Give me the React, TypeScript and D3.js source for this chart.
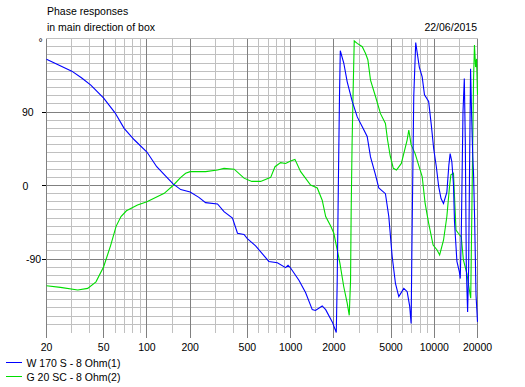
import React from 'react'
import * as d3 from 'd3'

// W 170 S - 8 Ohm(1)
const blueFreq = [20, 30, 35, 40.7, 50, 60, 69.4, 81.6, 100, 117, 152, 172, 200, 230, 256, 310, 344, 394, 427, 474, 500, 571, 706, 809, 923, 960, 1000, 1143, 1271, 1415, 1489, 1660, 1755, 1950, 2080, 2110, 2150, 2190, 2218, 2345, 2478, 2686, 2910, 3155, 3413, 3600, 3900, 4110, 4573, 4826, 5095, 5370, 5664, 6140, 6480, 6748, 6900, 7010, 7200, 7430, 7870, 8240, 8550, 9140, 9540, 9910, 10340, 10740, 11150, 11600, 12240, 12640, 12900, 13260, 13610, 13830, 14380, 14930, 15170, 15420, 15850, 16190, 16450, 16720, 17070, 17350, 17650, 17900, 18200, 18500, 18780, 19100, 19530, 20000]
const bluePhase = [154.5, 140, 132, 123, 107, 89, 70, 56, 41, 23, 2, -5, -8, -14.5, -21, -22.6, -32, -40, -58.5, -60, -65, -74, -93, -94.5, -100.6, -97.7, -101, -116, -131, -152, -153, -147.5, -152, -167, -180, -120, 0, 110, 165, 150, 127, 103, 84, 72, 60, 35, 13, -3, -10, -38, -87, -120, -136, -126, -130, -148, -169, -57, 109, 175, 145, 133, 111, 103, 74, 45, 23, -1.5, -16, -22, -8, 25, 39, 29, 1, -44, -93, -105, -114, -60, 90, 131, 54, -101, -155, -101, 40, 143, 86, 41, 13, -40, -134, -167]

// G 20 SC - 8 Ohm(2)
const greenFreq = [20, 25, 33, 38.7, 44.2, 50, 56, 61, 66, 72, 86, 100, 132, 152, 172, 186, 200, 256, 310, 344, 405, 474, 537, 619, 727, 779, 852, 923, 1000, 1072, 1175, 1378, 1534, 1660, 1755, 1905, 2000, 2113, 2204, 2345, 2478, 2560, 2615, 2640, 2680, 2720, 2774, 2910, 3155, 3320, 3450, 3600, 3900, 4225, 4573, 4730, 4930, 5190, 5460, 5900, 6480, 6650, 6900, 7360, 8240, 8640, 9140, 9820, 10460, 10900, 11600, 12240, 12770, 13050, 13610, 14170, 14700, 15420, 15950, 16860, 17560, 17940, 18300, 18780, 19050, 19400, 19700, 20000]
const greenPhase = [-122.7, -124.7, -128, -126, -118, -99.4, -73, -50, -38, -31, -24, -20, -9.6, 0, 10, 15, 17, 17, 19, 21, 20, 9, 5, 5, 10, 23, 28, 27, 30, 32, 17, 0.6, -3, -18, -38, -50, -58.5, -79, -95, -124, -144, -159, -116, -32, 52, 109, 177, 174, 170, 162, 154, 129, 109, 88, 76, 56, 37, 21, 19, 27, 56, 68, 50, 39, 11, -22, -46, -73, -79, -85, -67, -38, -1.5, 13, 15, -54.5, -58.5, -63, -91, -107.5, -128, -138, -22, 131, 172, 145, 155, 111]

const freqTicks = [20, 50, 100, 200, 500, 1000, 2000, 5000, 10000, 20000]
const freqMinor = [30, 40, 60, 70, 80, 90, 150, 300, 400, 600, 700, 800, 900, 1500, 3000, 4000, 6000, 7000, 8000, 9000, 15000]
const phaseTicks = [90, 0, -90]
const phaseTickX = [22, 22.5, 26]
const legendNames = ['W 170 S - 8 Ohm(1)', 'G 20 SC - 8 Ohm(2)']
const colors = ['#0000ff', '#00dd00']

const App = () => {
  const width = 525
  const height = 387
  const xScale = d3.scaleLog().domain([20, 20000]).range([46.5, 477.5])
  const yScale = d3.scaleLinear().domain([-180, 180]).range([332.5, 38.5])
  const snap = (v: number) => Math.floor(v) + 0.5
  const top = snap(yScale(180))
  const bottom = 333

  const hLines = d3.range(-170, 181, 10)

  const line = d3.line<[number, number]>()
    .x(d => xScale(d[0]))
    .y(d => yScale(d[1]))

  const blue = blueFreq.map((f, i) => [f, bluePhase[i]] as [number, number])
  const green = greenFreq.map((f, i) => [f, greenPhase[i]] as [number, number])

  const font = { fontFamily: 'Liberation Sans, Arial, sans-serif', fontSize: 10.5 }

  return (
    <svg width={width} height={height} style={{ position: 'absolute', left: 0, top: 0, background: '#fff' }}>
      <rect width={width} height={height} fill='#fff' />
      <g shapeRendering='crispEdges'>
        {hLines.map(p => (
          <line key={'h' + p} x1={46} x2={478} y1={snap(yScale(p))} y2={snap(yScale(p))}
            stroke={phaseTicks.includes(p) ? '#808080' : '#c0c0c0'} />
        ))}
        {freqMinor.map(f => (
          <line key={'m' + f} x1={snap(xScale(f))} x2={snap(xScale(f))} y1={top} y2={bottom} stroke='#c0c0c0' />
        ))}
        {freqTicks.map(f => (
          <line key={'t' + f} x1={snap(xScale(f))} x2={snap(xScale(f))} y1={top} y2={338} stroke='#808080' />
        ))}
        <line x1={46.5} x2={46.5} y1={top} y2={338} stroke='#808080' />
        {phaseTicks.map(p => (
          <line key={'yt' + p} x1={42} x2={46} y1={snap(yScale(p))} y2={snap(yScale(p))} stroke='#000' />
        ))}
      </g>
      <path d={line(green) || ''} fill='none' stroke={colors[1]} strokeWidth={1.1} />
      <path d={line(blue) || ''} fill='none' stroke={colors[0]} strokeWidth={1.1} />
      <g style={font} fill='#000'>
        <text x={47} y={14.5}>Phase responses</text>
        <text x={47} y={31}>in main direction of box</text>
        <text x={477} y={31} textAnchor='end'>22/06/2015</text>
        <text x={38.5} y={46}>°</text>
        {phaseTicks.map((p, i) => (
          <text key={'yl' + p} x={phaseTickX[i]} y={yScale(p) + 4}>{p}</text>
        ))}
        {freqTicks.map(f => (
          <text key={'xl' + f} x={xScale(f)} y={350.5} textAnchor='middle'>{f}</text>
        ))}
        {legendNames.map((name, i) => (
          <g key={name}>
            <line x1={6} x2={22} y1={362.5 + i * 14} y2={362.5 + i * 14} stroke={colors[i]} shapeRendering='crispEdges' />
            <text x={26.5} y={366.5 + i * 14}>{name}</text>
          </g>
        ))}
      </g>
    </svg>
  )
}

export default App
